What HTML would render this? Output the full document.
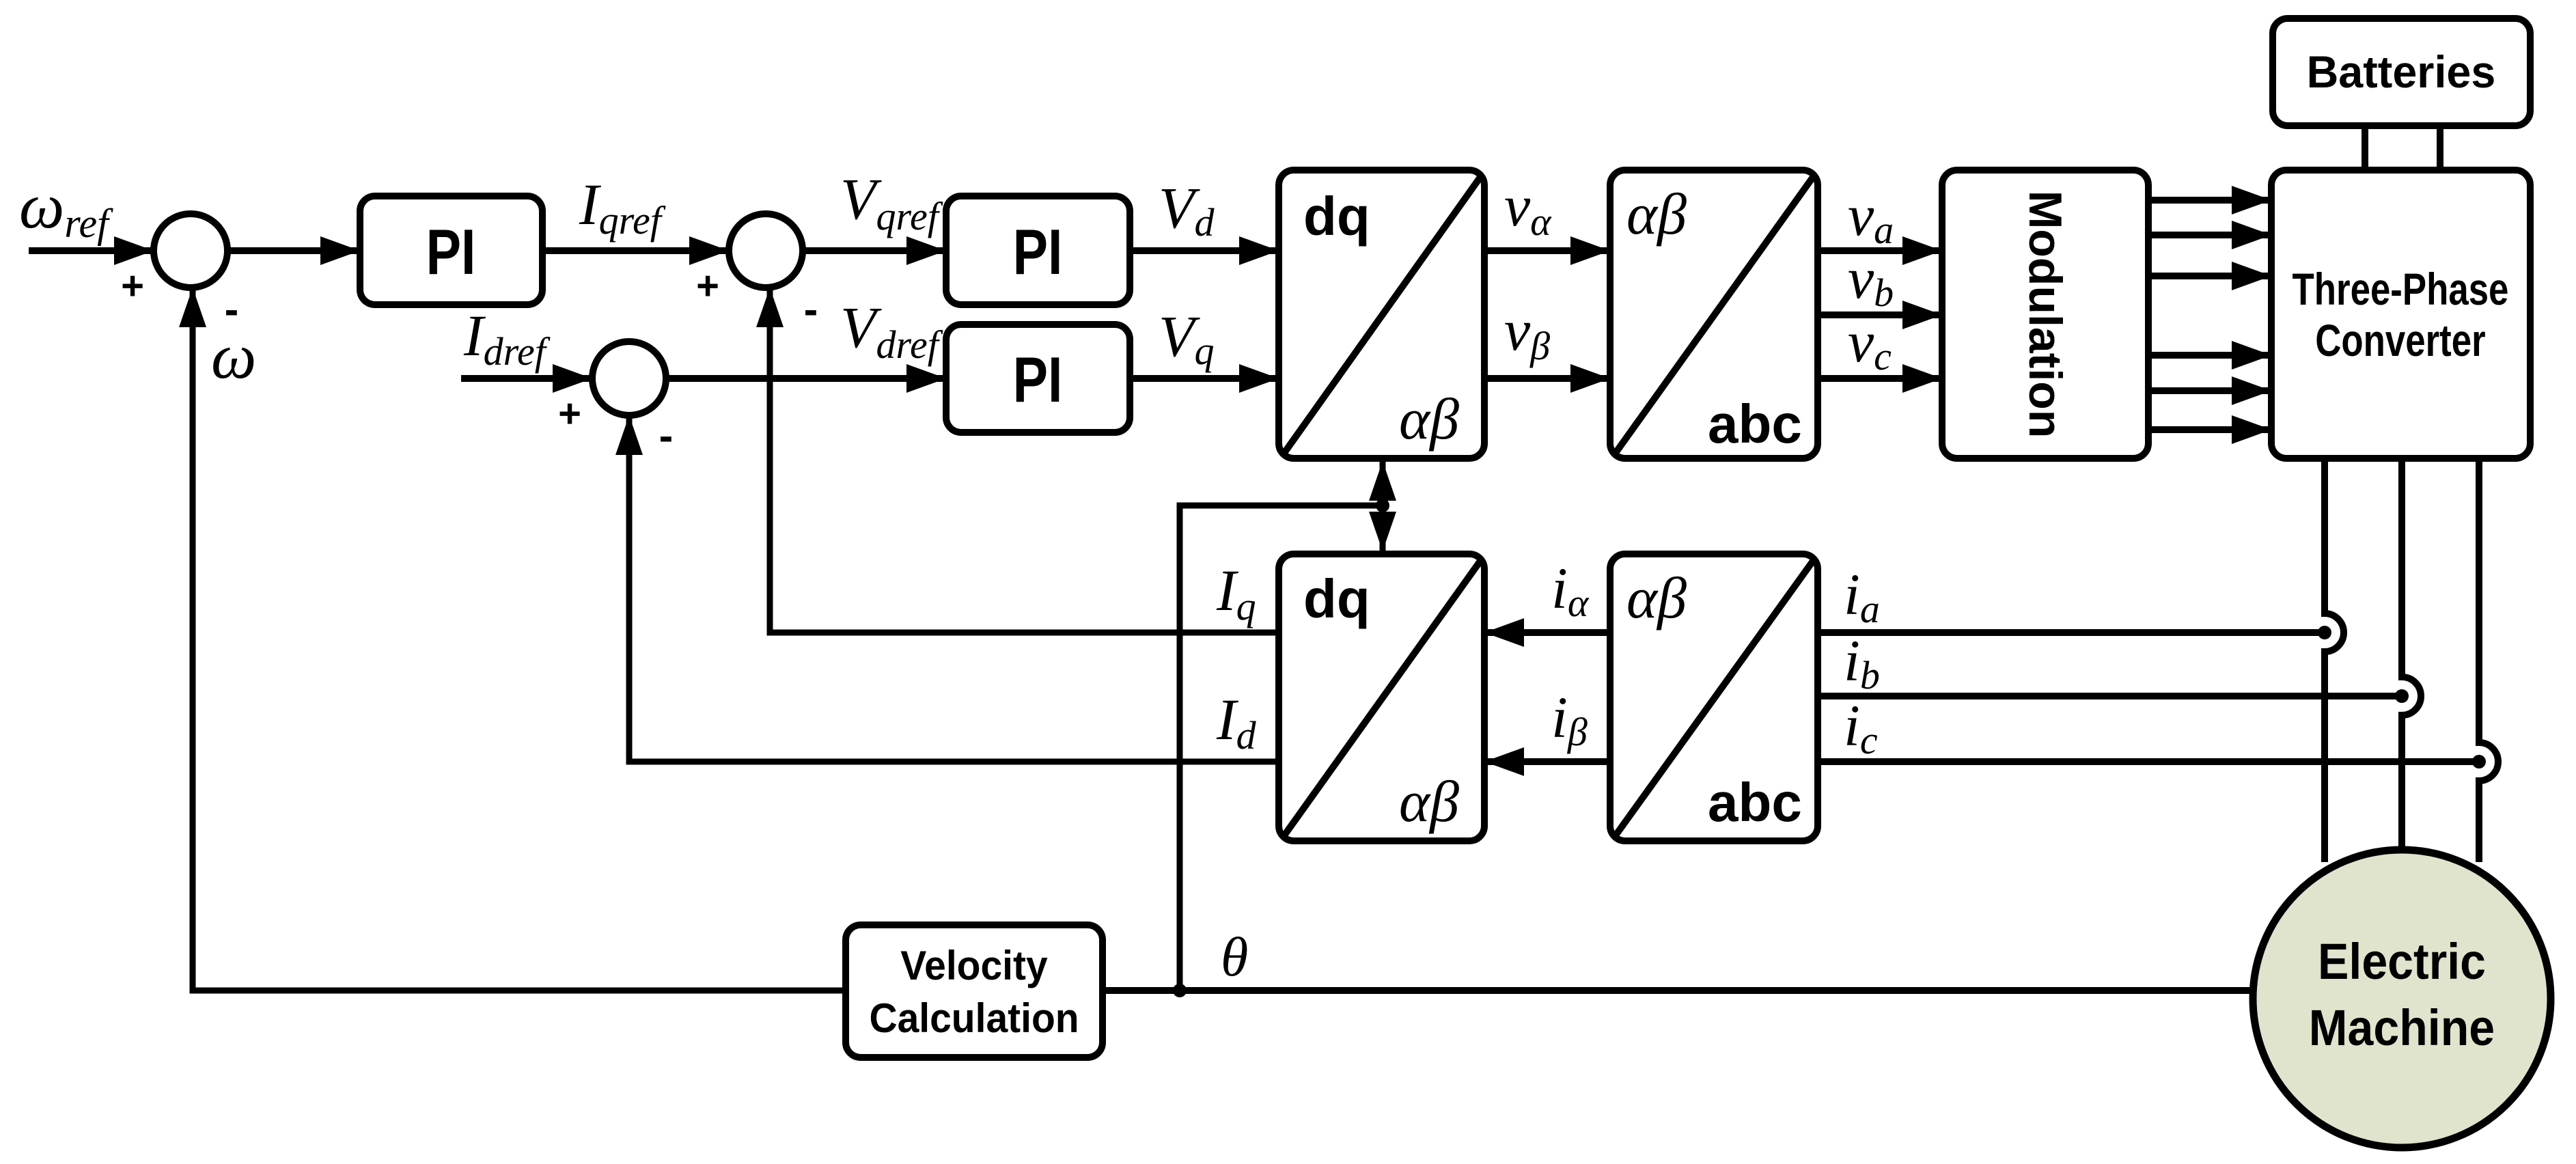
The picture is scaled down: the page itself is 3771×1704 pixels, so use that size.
<!DOCTYPE html>
<html><head><meta charset="utf-8"><style>
html,body{margin:0;padding:0;background:#fff;}
svg{display:block;}
.sv{font-family:"Liberation Serif",serif;font-style:italic;}
.sb{font-family:"Liberation Sans",sans-serif;font-weight:bold;}
</style></head><body>
<svg width="3771" height="1704" viewBox="0 0 3771 1704" xmlns="http://www.w3.org/2000/svg">
<defs>
<marker id="ar" viewBox="0 0 58 42" refX="58" refY="21" markerWidth="58" markerHeight="42" markerUnits="userSpaceOnUse" orient="auto"><path d="M0 0L58 21L0 42Z" fill="#000"/></marker>
<marker id="af" viewBox="0 0 58 40" refX="58" refY="20" markerWidth="58" markerHeight="40" markerUnits="userSpaceOnUse" orient="auto"><path d="M0 0L58 20L0 40Z" fill="#000"/></marker>
</defs>
<g fill="none" stroke="#000" stroke-width="10">
<circle cx="279" cy="367" r="54"/>
<circle cx="1121" cy="367" r="54"/>
<circle cx="921" cy="554" r="54"/>
<rect x="527" y="287" width="267" height="159" rx="22"/>
<rect x="1385" y="287" width="269" height="159" rx="22"/>
<rect x="1385" y="475" width="269" height="158" rx="22"/>
<rect x="1872" y="249" width="301" height="422" rx="22"/>
<line x1="1880" y1="663" x2="2170" y2="255"/>
<rect x="2357" y="249" width="304" height="422" rx="22"/>
<line x1="2365" y1="663" x2="2657" y2="255"/>
<rect x="1872" y="811" width="301" height="420" rx="22"/>
<line x1="1880" y1="1223" x2="2170" y2="817"/>
<rect x="2357" y="811" width="304" height="420" rx="22"/>
<line x1="2365" y1="1223" x2="2657" y2="817"/>
<rect x="2843" y="249" width="302" height="422" rx="22"/>
<rect x="3325" y="249" width="379" height="422" rx="22"/>
<rect x="3327" y="27" width="377" height="157" rx="22"/>
<rect x="1238" y="1354" width="376" height="194" rx="22"/>
<line x1="42" y1="367" x2="225" y2="367" marker-end="url(#ar)"/>
<line x1="333" y1="367" x2="527" y2="367" marker-end="url(#ar)"/>
<line x1="794" y1="367" x2="1067" y2="367" marker-end="url(#ar)"/>
<line x1="1175" y1="367" x2="1385" y2="367" marker-end="url(#ar)"/>
<line x1="1654" y1="367" x2="1872" y2="367" marker-end="url(#ar)"/>
<line x1="675" y1="554" x2="867" y2="554" marker-end="url(#ar)"/>
<line x1="975" y1="554" x2="1385" y2="554" marker-end="url(#ar)"/>
<line x1="1654" y1="554" x2="1872" y2="554" marker-end="url(#ar)"/>
<line x1="2173" y1="367" x2="2357" y2="367" marker-end="url(#ar)"/>
<line x1="2173" y1="554" x2="2357" y2="554" marker-end="url(#ar)"/>
<line x1="2661" y1="367" x2="2843" y2="367" marker-end="url(#ar)"/>
<line x1="2661" y1="461" x2="2843" y2="461" marker-end="url(#ar)"/>
<line x1="2661" y1="554" x2="2843" y2="554" marker-end="url(#ar)"/>
<line x1="3145" y1="293" x2="3325" y2="293" marker-end="url(#ar)"/>
<line x1="3145" y1="344" x2="3325" y2="344" marker-end="url(#ar)"/>
<line x1="3145" y1="404" x2="3325" y2="404" marker-end="url(#ar)"/>
<line x1="3145" y1="520" x2="3325" y2="520" marker-end="url(#ar)"/>
<line x1="3145" y1="572" x2="3325" y2="572" marker-end="url(#ar)"/>
<line x1="3145" y1="629" x2="3325" y2="629" marker-end="url(#ar)"/>
<line x1="2357" y1="926" x2="2173" y2="926" marker-end="url(#ar)"/>
<line x1="2357" y1="1115" x2="2173" y2="1115" marker-end="url(#ar)"/>
<polyline points="1238,1450 282,1450 282,421" marker-end="url(#af)" stroke-width="9"/>
<polyline points="1872,926 1127,926 1127,421" marker-end="url(#af)" stroke-width="9"/>
<polyline points="1872,1115 921,1115 921,608" marker-end="url(#af)" stroke-width="9"/>
<line x1="1614" y1="1450" x2="3300" y2="1450"/>
<polyline points="1727,1450 1727,740 2024,740" stroke-width="9"/>
<line x1="2024" y1="740" x2="2024" y2="675" marker-end="url(#af)" stroke-width="9"/>
<line x1="2024" y1="740" x2="2024" y2="807" marker-end="url(#af)" stroke-width="9"/>
<line x1="3462" y1="184" x2="3462" y2="249"/>
<line x1="3572" y1="184" x2="3572" y2="249"/>
<line x1="2661" y1="926" x2="3403" y2="926"/>
<line x1="2661" y1="1019" x2="3516" y2="1019"/>
<line x1="2661" y1="1115" x2="3629" y2="1115"/>
<path d="M3403 671V898A28 28 0 0 1 3403 954V1262"/>
<path d="M3516 671V991A28 28 0 0 1 3516 1047V1250"/>
<path d="M3629 671V1087A28 28 0 0 1 3629 1143V1262"/>
</g>
<g fill="#000">
<circle cx="1727" cy="1450" r="10"/>
<circle cx="2024" cy="740" r="10"/>
<circle cx="3403" cy="926" r="10"/>
<circle cx="3516" cy="1019" r="10"/>
<circle cx="3629" cy="1115" r="10"/>
</g>
<circle cx="3516" cy="1462" r="218" fill="#e1e4cd" stroke="#000" stroke-width="11"/>
<g class="sb" fill="#000" text-anchor="middle">
<text x="660" y="401" font-size="94" transform="translate(660 0) scale(0.82 1) translate(-660 0)">PI</text>
<text x="1519" y="401" font-size="94" transform="translate(1519 0) scale(0.82 1) translate(-1519 0)">PI</text>
<text x="1519" y="588" font-size="94" transform="translate(1519 0) scale(0.82 1) translate(-1519 0)">PI</text>
<text x="3515" y="128" font-size="66" transform="translate(3515 0) scale(0.98 1) translate(-3515 0)">Batteries</text>
<text x="3514" y="446" font-size="66" transform="translate(3514 0) scale(0.8 1) translate(-3514 0)">Three-Phase</text>
<text x="3514" y="521" font-size="66" transform="translate(3514 0) scale(0.8 1) translate(-3514 0)">Converter</text>
<text x="1426" y="1434" font-size="60" transform="translate(1426 0) scale(0.95 1) translate(-1426 0)">Velocity</text>
<text x="1426" y="1511" font-size="60" transform="translate(1426 0) scale(0.95 1) translate(-1426 0)">Calculation</text>
<text font-size="68" transform="translate(2994 460) rotate(90)" x="0" y="23">Modulation</text>
<text x="3516" y="1433" font-size="74" transform="translate(3516 0) scale(0.92 1) translate(-3516 0)">Electric</text>
<text x="3516" y="1530" font-size="74" transform="translate(3516 0) scale(0.92 1) translate(-3516 0)">Machine</text>
<text x="194" y="438" font-size="58">+</text>
<text x="339" y="474" font-size="62">-</text>
<text x="1036" y="438" font-size="58">+</text>
<text x="1187" y="474" font-size="62">-</text>
<text x="834" y="625" font-size="58">+</text>
<text x="975" y="659" font-size="62">-</text>
</g>
<g class="sb" fill="#000" font-size="80">
<text x="1908" y="344">dq</text>
<text x="1908" y="904">dq</text>
<text x="2500" y="648">abc</text>
<text x="2500" y="1202">abc</text>
</g>
<g class="sv" fill="#000" font-size="86">
<text x="2048" y="642">αβ</text>
<text x="2048" y="1202">αβ</text>
<text x="2381" y="342">αβ</text>
<text x="2381" y="904">αβ</text>
<text x="28" y="333" font-size="94">ω<tspan font-size="60" dy="14">ref</tspan></text>
<text x="848" y="328">I<tspan font-size="58" dy="14">qref</tspan></text>
<text x="1230" y="320">V<tspan font-size="58" dy="16">qref</tspan></text>
<text x="1696" y="333">V<tspan font-size="58" dy="12">d</tspan></text>
<text x="679" y="520">I<tspan font-size="58" dy="14">dref</tspan></text>
<text x="1230" y="508">V<tspan font-size="58" dy="16">dref</tspan></text>
<text x="1696" y="521">V<tspan font-size="58" dy="12">q</tspan></text>
<text x="309" y="553" font-size="94">ω</text>
<text x="1781" y="893">I<tspan font-size="58" dy="14">q</tspan></text>
<text x="1781" y="1082">I<tspan font-size="58" dy="14">d</tspan></text>
<text x="1787" y="1428" font-size="82">θ</text>
<text x="2202" y="330">v<tspan font-size="58" dy="14">α</tspan></text>
<text x="2202" y="512">v<tspan font-size="58" dy="14">β</tspan></text>
<text x="2705" y="344">v<tspan font-size="58" dy="12">a</tspan></text>
<text x="2705" y="436">v<tspan font-size="58" dy="12">b</tspan></text>
<text x="2705" y="529">v<tspan font-size="58" dy="12">c</tspan></text>
<text x="2271" y="890">i<tspan font-size="58" dy="12">α</tspan></text>
<text x="2271" y="1079">i<tspan font-size="58" dy="12">β</tspan></text>
<text x="2699" y="899">i<tspan font-size="58" dy="12">a</tspan></text>
<text x="2699" y="996">i<tspan font-size="58" dy="12">b</tspan></text>
<text x="2699" y="1091">i<tspan font-size="58" dy="12">c</tspan></text>
</g>
</svg>
</body></html>
